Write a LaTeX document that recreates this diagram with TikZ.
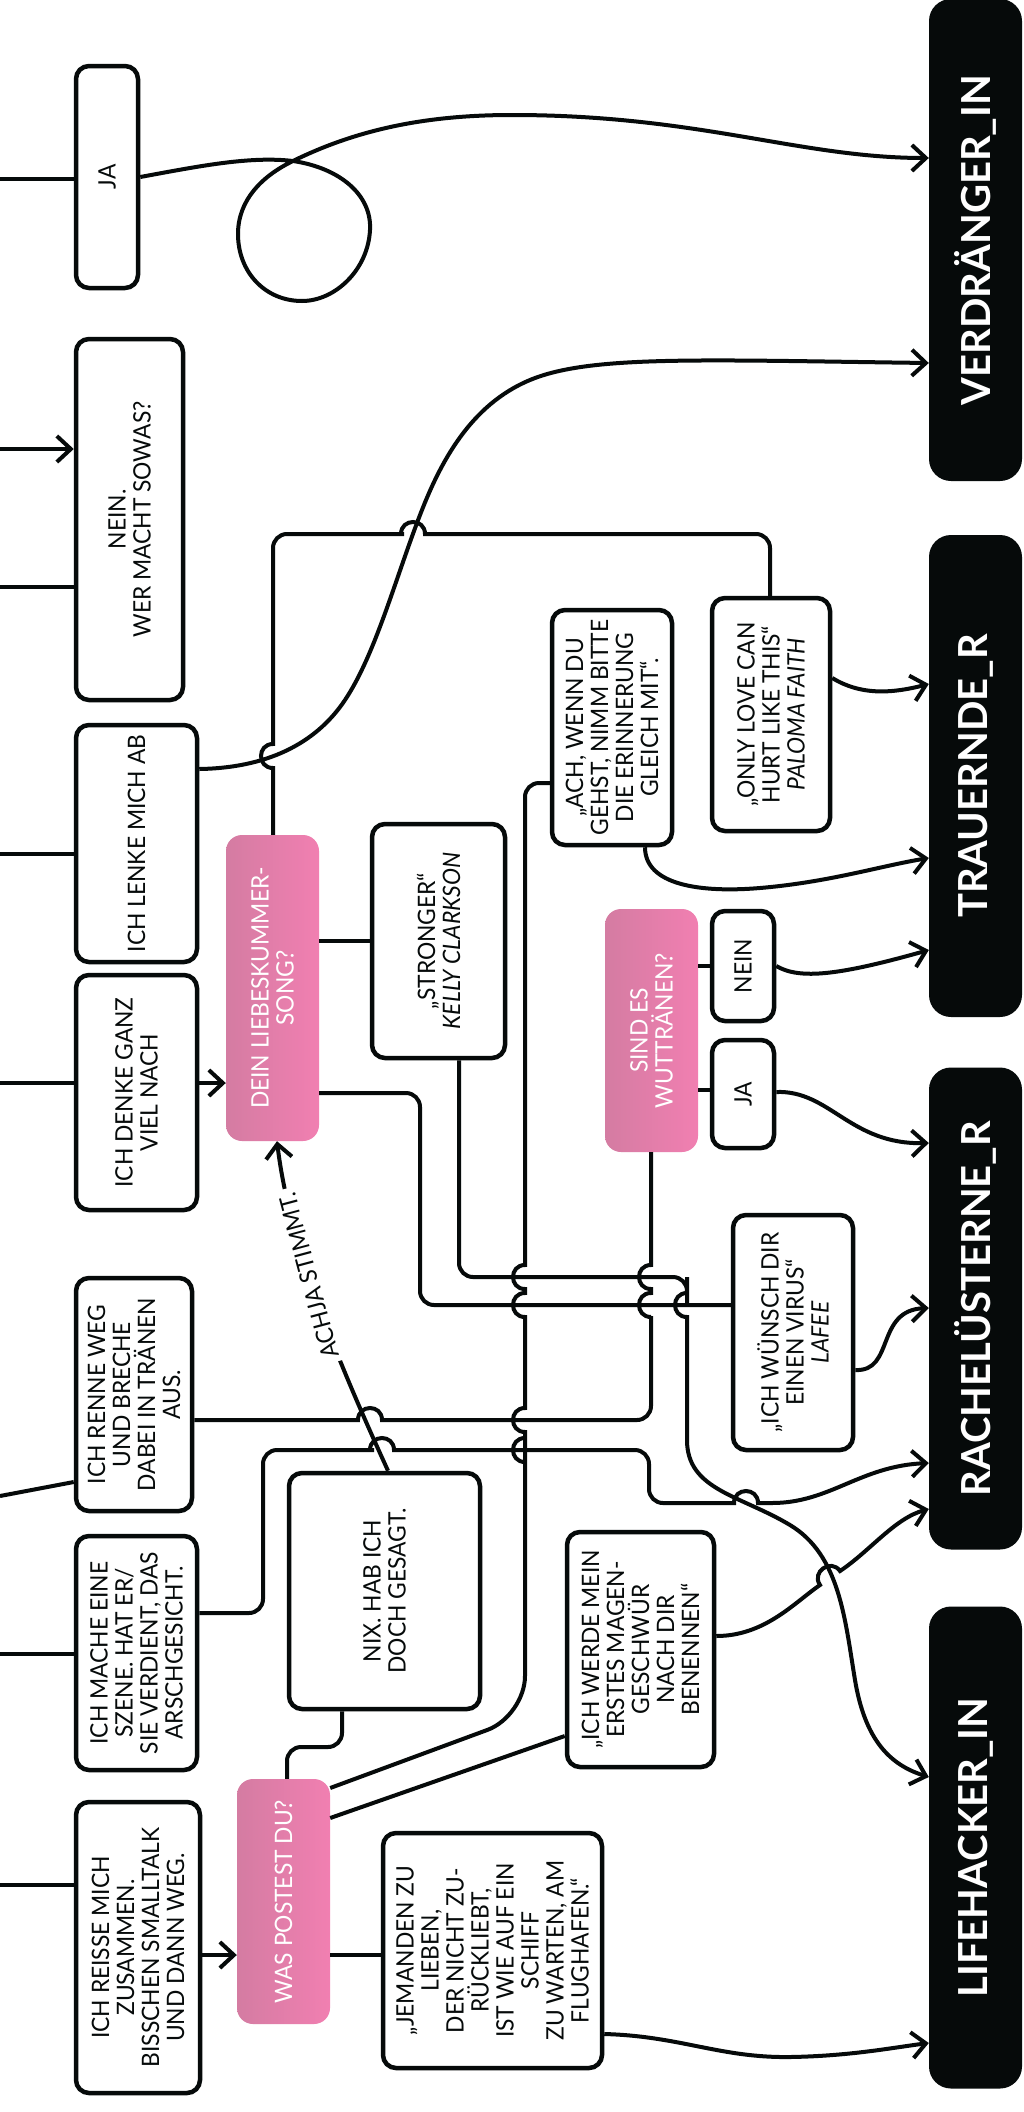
\documentclass[tikz,border=0pt]{standalone}
\usepackage{fontspec}
\setmainfont{Lato}[FakeStretch=0.95]
\newfontfamily\headfont{Lato}
\usetikzlibrary{arrows.meta,calc}
\definecolor{pinkTop}{RGB}{241,127,177}
\definecolor{pinkBot}{RGB}{212,124,162}
\definecolor{inkblack}{RGB}{6,10,10}
\begin{document}
\begin{tikzpicture}[x=1pt,y=-1pt,
  conn/.style={line width=4pt, draw=inkblack},
  arr/.style={-{Straight Barb[length=14pt,width=26pt]}},
  wbox/.style={draw=inkblack, line width=4.5pt, rounded corners=13pt, rotate=90, align=center, inner sep=0pt, fill=white, text=inkblack, font=\fontsize{24}{25}\selectfont},
  pbox/.style={rotate=90, rounded corners=16pt, align=center, inner sep=0pt, text=white, left color=pinkBot, right color=pinkTop, font=\fontsize{24}{25}\selectfont},
  bbox/.style={rotate=90, rounded corners=22pt, fill=inkblack, text=white, inner sep=0pt, font=\headfont\bfseries\fontsize{40}{44}\selectfont, minimum width=482pt, minimum height=93pt},
  lbl/.style={fill=white, inner sep=5pt, text=inkblack, font=\fontsize{24}{25}\selectfont}
]
\fill[white] (0,0) rectangle (1024,2112);
\path[use as bounding box] (0,0) rectangle (1024,2112);

% ---------- nodes ----------
\node[wbox, minimum width=222pt, minimum height=62pt] (ja1) at (107,177) {JA};
\node[wbox, minimum width=361pt, minimum height=107pt] (nein1) at (129.5,519.5) {NEIN.\\WER MACHT SOWAS?};
\node[wbox, minimum width=237pt, minimum height=121pt] (lenke) at (136.5,843.5) {ICH LENKE MICH AB};
\node[wbox, minimum width=235pt, minimum height=121pt] (denke) at (136.5,1092.5) {ICH DENKE GANZ\\VIEL NACH};
\node[wbox, minimum width=233pt, minimum height=116pt] (renne) at (134,1394.5) {ICH RENNE WEG\\UND BRECHE\\DABEI IN TRÄNEN\\AUS.};
\node[wbox, minimum width=234pt, minimum height=121pt] (szene) at (136.5,1653) {ICH MACHE EINE\\SZENE. HAT ER/\\SIE VERDIENT, DAS\\ARSCHGESICHT.};
\node[wbox, minimum width=291pt, minimum height=124pt] (reisse) at (138,1947.5) {ICH REISSE MICH\\ZUSAMMEN.\\BISSCHEN SMALLTALK\\UND DANN WEG.};
\node[wbox, minimum width=236pt, minimum height=191pt] (nix) at (384.5,1591) {NIX. HAB ICH\\DOCH GESAGT.};
\node[wbox, minimum width=234pt, minimum height=133pt] (stronger) at (438.5,941) {„STRONGER“\\\textit{KELLY CLARKSON}};
\node[wbox, minimum width=235pt, minimum height=120pt] (achwenn) at (612,727.5) {„ACH, WENN DU\\GEHST, NIMM BITTE\\DIE ERINNERUNG\\GLEICH MIT“.};
\node[wbox, minimum width=233pt, minimum height=118pt] (onlylove) at (771,714.5) {„ONLY LOVE CAN\\HURT LIKE THIS“\\\textit{PALOMA FAITH}};
\node[wbox, minimum width=110pt, minimum height=62pt] (nein2) at (743,966) {NEIN};
\node[wbox, minimum width=108pt, minimum height=62pt] (ja2) at (743,1094) {JA};
\node[wbox, minimum width=235pt, minimum height=120pt] (lafee) at (793,1332.5) {„ICH WÜNSCH DIR\\EINEN VIRUS“\\\textit{LAFEE}};
\node[wbox, minimum width=235pt, minimum height=147pt] (werde) at (640.5,1649.5) {„ICH WERDE MEIN\\ERSTES MAGEN-\\GESCHWÜR\\NACH DIR\\BENENNEN“};
\node[wbox, minimum width=235pt, minimum height=219pt] (jemanden) at (492.5,1950.5) {„JEMANDEN ZU\\LIEBEN,\\DER NICHT ZU-\\RÜCKLIEBT,\\IST WIE AUF EIN\\SCHIFF\\ZU WARTEN, AM\\FLUGHAFEN.“};
\node[pbox, minimum width=306pt, minimum height=93pt] (dein) at (272.5,988) {DEIN LIEBESKUMMER-\\SONG?};
\node[pbox, minimum width=243pt, minimum height=93pt] (sind) at (651.5,1030.5) {SIND ES\\WUTTRÄNEN?};
\node[pbox, minimum width=245pt, minimum height=93pt] (was) at (283.5,1901.5) {WAS POSTEST DU?};
\node[bbox] (verd) at (975.5,240) {VERDRÄNGER\_IN};
\node[bbox] (trau) at (975.5,776) {TRAUERNDE\_R};
\node[bbox] (rache) at (975.5,1308.5) {RACHELÜSTERNE\_R};
\node[bbox] (life) at (975.5,1847.5) {LIFEHACKER\_IN};

% ---------- free ends on the left ----------
\coordinate (f1) at (0,179);
\coordinate (f2) at (0,449);
\coordinate (f3) at (0,587);
\coordinate (f4) at (0,854);
\coordinate (f5) at (0,1083);
\coordinate (f6) at (0,1496);
\coordinate (f7) at (0,1654);
\coordinate (f8) at (0,1885);

\draw[conn] (f1) -- (ja1.north |- f1);
\draw[conn,arr] (f2) -- (nein1.north |- f2);
\draw[conn] (f3) -- (nein1.north |- f3);
\draw[conn] (f4) -- (lenke.north |- f4);
\draw[conn] (f5) -- (denke.north |- f5);
\draw[conn] (f6) -- (renne.north |- 0,1482);
\draw[conn] (f7) -- (szene.north |- f7);
\draw[conn] (f8) -- (reisse.north |- f8);

% ---------- straight links ----------
\draw[conn,arr] (denke.south |- 0,1083) -- (dein.north |- 0,1083);
\draw[conn,arr] (reisse.south |- 0,1955) -- (was.north |- 0,1955);
\draw[conn] (dein.south |- 0,941) -- (stronger.north |- 0,941);
\draw[conn] (was.south |- 0,1955) -- (jemanden.north |- 0,1955);
\draw[conn] (sind.south |- 0,966) -- (nein2.north |- 0,966);
\draw[conn] (sind.south |- 0,1090) -- (ja2.north |- 0,1090);
\draw[conn] (was.south |- 0,1818) -- (werde.north |- 0,1736);

% ---------- JA loop ----------
\draw[conn,arr] (ja1.south |- 0,177) .. controls (200,166) and (250,156) .. (293,161)
  .. controls (340,168) and (372,195) .. (370,230)
  .. controls (368,270) and (335,301) .. (302,301)
  .. controls (265,301) and (238,272) .. (238,234)
  .. controls (238,200) and (262,176) .. (293,161)
  .. controls (360,128) and (430,115) .. (512,115)
  .. controls (700,115) and (800,158) .. (verd.north |- 0,158);

% ---------- LENKE S-curve ----------
\draw[conn,arr] (lenke.south |- 0,769) .. controls (265,768) and (315,745) .. (345,700)
  .. controls (375,655) and (395,580) .. (420,515)
  .. controls (440,463) and (470,405) .. (530,380)
  .. controls (590,355) and (700,360) .. (verd.north |- 0,363);

% ---------- DEIN top -> ONLY LOVE ----------
\draw[conn] (dein.east -| 273,0) -- (273,790) [sharp corners] -- (273,768)
  .. controls (257,768) and (257,744) .. (273,744) -- (273,720)
  [rounded corners=14pt] -- (273,534) -- (390,534) [sharp corners] -- (401,534)
  .. controls (401,518) and (425,518) .. (425,534) -- (440,534)
  [rounded corners=14pt] -- (770,534) -- (onlylove.east -| 770,0);

% ---------- DEIN -> LAFEE ----------
\draw[conn, rounded corners=14pt] (dein.south |- 0,1093) -- (420,1093) -- (420,1305) -- (lafee.north |- 0,1305);

% ---------- STRONGER -> LIFEHACKER ----------
\draw[conn,arr] (stronger.west -| 459,0) [rounded corners=14pt] -- (459,1277) -- (687,1277) -- (687,1291)
  [sharp corners] -- (687,1293) .. controls (671,1293) and (671,1317) .. (687,1317) -- (687,1440)
  .. controls (687,1490) and (740,1495) .. (790,1525)
  .. controls (840,1555) and (845,1620) .. (855,1680)
  .. controls (865,1740) and (890,1765) .. (life.north |- 0,1777);

% ---------- RENNE -> SIND ----------
\draw[conn] (renne.south |- 0,1420) -- (346,1420) -- (358,1420)
  .. controls (358,1404) and (382,1404) .. (382,1420) -- (394,1420)
  [rounded corners=14pt] -- (651,1420) -- (651,1330) [sharp corners] -- (651,1317)
  .. controls (635,1317) and (635,1293) .. (651,1293) -- (651,1289)
  .. controls (635,1289) and (635,1265) .. (651,1265) -- (sind.west -| 651,0);

% ---------- SZENE -> RACHE ----------
\draw[conn,arr] (szene.south |- 0,1613) [rounded corners=14pt] -- (263,1613) -- (263,1450) -- (360,1450)
  [sharp corners] -- (370,1450) .. controls (370,1434) and (394,1434) .. (394,1450) -- (404,1450)
  [rounded corners=14pt] -- (649,1450) -- (649,1503) -- (722,1503)
  [sharp corners] -- (734,1503) .. controls (734,1487) and (758,1487) .. (758,1503) -- (772,1503)
  .. controls (830,1503) and (860,1466) .. (rache.north |- 0,1463);

% ---------- WAS -> ACH WENN ----------
\draw[conn] (was.south |- 0,1788) [rounded corners=40pt] -- (525,1716) -- (525,1475)
  [sharp corners] -- (525,1462) .. controls (509,1462) and (509,1438) .. (525,1438)
  -- (525,1432) .. controls (509,1432) and (509,1408) .. (525,1408)
  -- (525,1317) .. controls (509,1317) and (509,1293) .. (525,1293)
  -- (525,1289) .. controls (509,1289) and (509,1265) .. (525,1265)
  -- (525,1250) [rounded corners=14pt] -- (525,783) -- (achwenn.north |- 0,783);

% ---------- WAS -> NIX ----------
\draw[conn, rounded corners=14pt] (was.east -| 287,0) -- (287,1747) -- (342,1747) -- (nix.west -| 342,0);

% ---------- NIX -> DEIN (ACHJA STIMMT.) ----------
\draw[conn,arr] (nix.east -| 388,0) .. controls (343,1372) and (290,1250) .. (dein.west -| 277,0)
  node[pos=0.6, rotate=105, lbl] {ACHJA STIMMT.};

% ---------- to TRAUERNDE ----------
\draw[conn,arr] (achwenn.west -| 645,0) .. controls (645,885) and (700,893) .. (760,888)
  .. controls (830,882) and (880,866) .. (trau.north |- 0,858);
\draw[conn,arr] (onlylove.south |- 0,678) .. controls (860,695) and (890,694) .. (trau.north |- 0,684);
\draw[conn,arr] (nein2.south |- 0,966) .. controls (800,980) and (840,975) .. (trau.north |- 0,950);

% ---------- to RACHELUESTERNE ----------
\draw[conn,arr] (ja2.south |- 0,1092) .. controls (830,1090) and (850,1145) .. (rache.north |- 0,1143);
\draw[conn,arr] (lafee.south |- 0,1370) .. controls (895,1372) and (875,1310) .. (rache.north |- 0,1308);
\draw[conn,arr] (werde.south |- 0,1636) .. controls (765,1636) and (795,1602) .. (820,1585)
  .. controls (811,1572) and (831,1558) .. (840,1571)
  .. controls (870,1551) and (895,1518) .. (rache.north |- 0,1509);

% ---------- to LIFEHACKER ----------
\draw[conn,arr] (jemanden.south |- 0,2034) .. controls (680,2036) and (720,2058) .. (790,2057)
  .. controls (850,2056) and (890,2048) .. (life.north |- 0,2043);
\end{tikzpicture}
\end{document}
